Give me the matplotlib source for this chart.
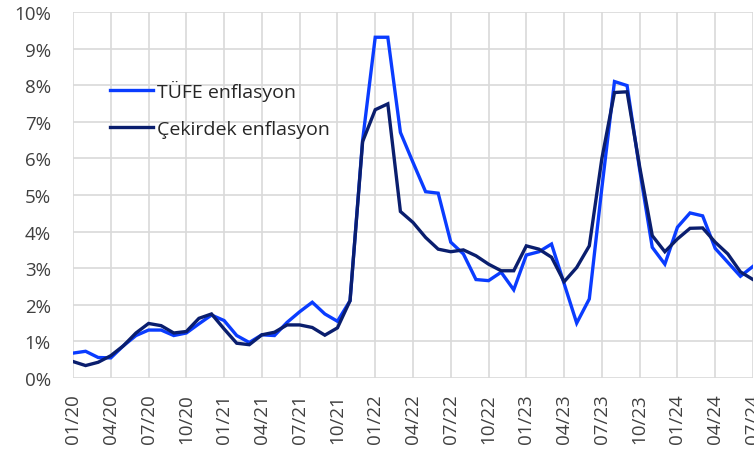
import matplotlib
matplotlib.use("Agg")
import matplotlib.pyplot as plt
from matplotlib.ticker import FuncFormatter, MultipleLocator

plt.rcParams['font.family'] = ['Open Sans', 'DejaVu Sans']

# Monthly data 01/20 .. 07/24 (percent)
tufe = [0.68, 0.73, 0.56, 0.55, 0.88, 1.16, 1.31, 1.31, 1.16, 1.23, 1.48, 1.72,
        1.57, 1.16, 0.97, 1.18, 1.16, 1.52, 1.81, 2.07, 1.75, 1.55,
        2.11, 6.50, 9.31, 9.31, 6.71, 5.89, 5.09, 5.05, 3.71, 3.39, 2.69, 2.66,
        2.89, 2.41, 3.36, 3.45, 3.66, 2.58, 1.50, 2.16, 5.20, 8.10, 7.99, 5.69,
        3.57, 3.11, 4.12, 4.51, 4.43, 3.54, 3.16, 2.78, 3.05]
cekirdek = [0.45, 0.34, 0.43, 0.61, 0.88, 1.23, 1.49, 1.43, 1.23, 1.27, 1.63, 1.75,
            1.34, 0.95, 0.91, 1.18, 1.25, 1.45, 1.45, 1.38, 1.17, 1.37,
            2.11, 6.46, 7.33, 7.49, 4.55, 4.25, 3.84, 3.52, 3.45, 3.50, 3.34, 3.11,
            2.93, 2.93, 3.61, 3.52, 3.30, 2.63, 3.02, 3.61, 6.00, 7.80, 7.82, 5.77,
            3.89, 3.45, 3.80, 4.09, 4.10, 3.71, 3.39, 2.90, 2.69]
tick_labels = ['01/20', '04/20', '07/20', '10/20', '01/21', '04/21', '07/21', '10/21',
               '01/22', '04/22', '07/22', '10/22', '01/23', '04/23', '07/23', '10/23',
               '01/24', '04/24', '07/24']

fig = plt.figure(figsize=(7.54, 4.52), dpi=100)
ax = fig.add_axes([73/754, 1-379/452, 680/754, 366/452])

x = list(range(len(tufe)))
ax.plot(x, tufe, color='#0A3CFF', lw=2.4, label='TÜFE enflasyon', solid_joinstyle='miter')
ax.plot(x, cekirdek, color='#0A1E6E', lw=2.4, label='Çekirdek enflasyon', solid_joinstyle='miter')

ax.set_xlim(0, len(tufe) - 1)
ax.set_ylim(0, 10)
ax.set_xticks(range(0, len(tufe), 3))
ax.set_xticklabels(tick_labels, rotation=90)
ax.yaxis.set_major_locator(MultipleLocator(1))
ax.yaxis.set_major_formatter(FuncFormatter(lambda v, p: f"{int(round(v))}%"))

ax.grid(True, color='#d9d9d9', lw=1.2)
ax.set_axisbelow(True)
for s in ax.spines.values():
    s.set_visible(False)
ax.tick_params(axis='both', length=0, labelsize=13.5, colors='#404040')
ax.tick_params(axis='y', pad=16)
ax.tick_params(axis='x', pad=11)

leg = ax.legend(loc='upper left', bbox_to_anchor=(0.054, 0.815), frameon=False,
                fontsize=14, handlelength=2.25, handletextpad=0.2, labelspacing=1.0,
                borderpad=0, borderaxespad=0)
for t in leg.get_texts():
    t.set_color('#262626')

fig.savefig('out.png', dpi=100)
